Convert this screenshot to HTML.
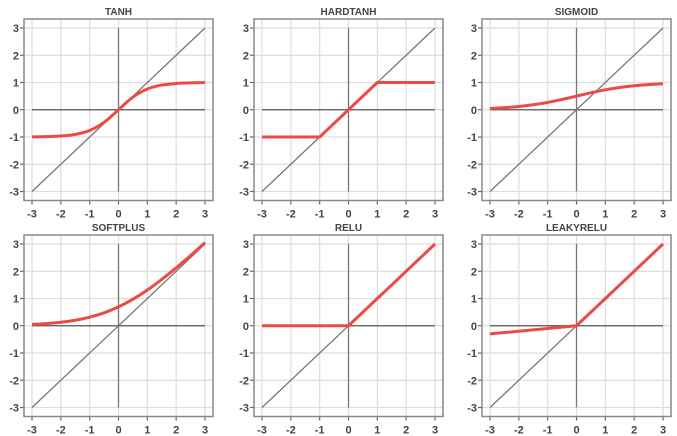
<!DOCTYPE html>
<html><head><meta charset="utf-8"><style>
body{margin:0;background:#fff;}
svg{display:block;font-family:"Liberation Sans",sans-serif;}
</style></head><body>
<svg id="c" width="677" height="436" viewBox="0 0 677 436"></svg>
<script>
const titles = ["TANH","HARDTANH","SIGMOID","SOFTPLUS","RELU","LEAKYRELU"];
const ticks = [-3,-2,-1,0,1,2,3];
const tickLabels = ["-3","-2","-1","0","1","2","3"];
const xSmooth = [-3,-2.5,-2,-1.5,-1,-0.5,0,0.5,1,1.5,2,2.5,3];
const tanhY = [-0.995,-0.987,-0.964,-0.905,-0.762,-0.462,0,0.462,0.762,0.905,0.964,0.987,0.995];
const sigmoidY = [0.047,0.076,0.119,0.182,0.269,0.378,0.5,0.622,0.731,0.818,0.881,0.924,0.953];
const softplusY = [0.049,0.079,0.127,0.201,0.313,0.474,0.693,0.974,1.313,1.701,2.127,2.579,3.049];
const hardtanhX = [-3,-1,1,3];
const hardtanhY = [-1,-1,1,1];
const reluX = [-3,0,3];
const reluY = [0,0,3];
const leakyX = [-3,0,3];
const leakyY = [-0.3,0,3];
const series = [
 {x:xSmooth,y:tanhY,smooth:true},
 {x:hardtanhX,y:hardtanhY,smooth:false},
 {x:xSmooth,y:sigmoidY,smooth:true},
 {x:xSmooth,y:softplusY,smooth:true},
 {x:reluX,y:reluY,smooth:false},
 {x:leakyX,y:leakyY,smooth:false}
];
const colX0=[32,262,490], rowY3=[28,244], W=173, H=163.5;
const NS="http://www.w3.org/2000/svg";
const svg=document.getElementById('c');
function mk(t,a,p){const e=document.createElementNS(NS,t);for(const k in a)e.setAttribute(k,a[k]);(p||svg).appendChild(e);return e;}
for(let i=0;i<6;i++){
 const c=i%3,r=Math.floor(i/3);
 const sx=v=>colX0[c]+(v+3)/6*W;
 const sy=v=>rowY3[r]+(3-v)/6*H;
 const g=mk('g',{});
 
 
 ticks.forEach((t,j)=>{
  const gv=mk('line',{x1:sx(t),x2:sx(t),y1:sy(3)-9,y2:sy(-3)+9,stroke:'#ddd','stroke-width':1.2},g);
  
  const gh=mk('line',{y1:sy(t),y2:sy(t),x1:sx(-3)-8,x2:sx(3)+8,stroke:'#ddd','stroke-width':1.2},g);
  
  const tx=mk('text',{x:sx(t),y:sy(-3)+26,'text-anchor':'middle','font-size':11,'font-weight':'bold',fill:'#444'},g);
  tx.textContent=tickLabels[j];
  const ty=mk('text',{x:sx(-3)-13,y:sy(t)+4,'text-anchor':'end','font-size':11,'font-weight':'bold',fill:'#444'},g);
  ty.textContent=tickLabels[j];
  const tk=mk('line',{x1:sx(t),x2:sx(t),y1:sy(-3)+9,y2:sy(-3)+13,stroke:'#666','stroke-width':1.2},g);
  
  const tk2=mk('line',{y1:sy(t),y2:sy(t),x1:sx(-3)-8,x2:sx(-3)-12,stroke:'#666','stroke-width':1.2},g);
  
 });
 const fr=mk('rect',{x:sx(-3)-8,y:sy(3)-9,width:W+16,height:H+18,fill:'none',stroke:'#888','stroke-width':1.5},g);
 
 const ax=mk('line',{x1:sx(-3),x2:sx(3),y1:sy(0),y2:sy(0),stroke:'#555','stroke-width':1.3},g);
 
 const ay=mk('line',{x1:sx(0),x2:sx(0),y1:sy(3),y2:sy(-3),stroke:'#777','stroke-width':1.3},g);
 
 const id=mk('line',{x1:sx(-3),x2:sx(3),y1:sy(-3),y2:sy(3),stroke:'#777','stroke-width':1.3},g);
 
 const s=series[i];const P=s.x.map((v,k)=>[sx(v),sy(s.y[k])]);
 let d='M'+P[0][0]+','+P[0][1];
 if(s.smooth){
  for(let k=0;k<P.length-1;k++){
   const p0=P[Math.max(k-1,0)],p1=P[k],p2=P[k+1],p3=P[Math.min(k+2,P.length-1)];
   d+=' C'+(p1[0]+(p2[0]-p0[0])/6)+','+(p1[1]+(p2[1]-p0[1])/6)+' '+(p2[0]-(p3[0]-p1[0])/6)+','+(p2[1]-(p3[1]-p1[1])/6)+' '+p2[0]+','+p2[1];
  }
 } else { for(let k=1;k<P.length;k++) d+=' L'+P[k][0]+','+P[k][1]; }
 const cv=mk('path',{d:d,fill:'none',stroke:'#ee4a44','stroke-width':3,'stroke-linejoin':'round'},g);
 
 const tt=mk('text',{x:sx(0),y:sy(3)-13,'text-anchor':'middle','font-size':10,'font-weight':'bold',fill:'#444'},g);
 tt.textContent=titles[i];
}
</script>
</body></html>
